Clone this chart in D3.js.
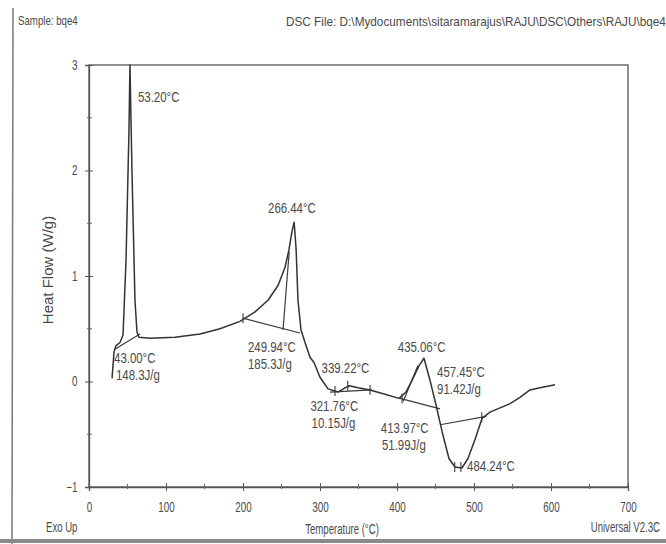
<!DOCTYPE html>
<html>
<head>
<meta charset="utf-8">
<script src="https://cdn.jsdelivr.net/npm/d3@7"></script>
<style>
    body { margin: 0; background: #fff; }
    svg text { font-family: "Liberation Sans", Arial, sans-serif; fill: #4a4a4a; }
</style>
</head>
<body>
<div id="chart"></div>
<script>
// DSC trace (temperature in °C, heat flow in W/g)
const temperature = [29.9, 32.5, 35.1, 40.3, 44.2, 48.1, 51.9, 53.2, 55.8, 59.7, 62.3, 64.9,
    79.2, 111.7, 144.2, 170.1, 196.1, 215.6, 232.5, 245.5, 254.5, 259.7, 263.6, 266.44, 269.0,
    271.4, 275.3, 280.5, 287.0, 292.2, 300.0, 310.4, 323.4, 332.5, 338.2, 349.4, 364.9, 384.4,
    402.6, 411.7, 420.8, 428.6, 435.06, 442.9, 450.6, 459.7, 467.5, 475.3, 484.24, 492.2, 501.3,
    510.4, 520.8, 533.8, 546.8, 559.7, 572.7, 585.7, 605.2];
const heatFlow = [0.03, 0.28, 0.34, 0.37, 0.44, 1.15, 2.38, 3.0, 2.0, 0.77, 0.47, 0.42,
    0.41, 0.42, 0.45, 0.50, 0.57, 0.66, 0.77, 0.91, 1.08, 1.25, 1.42, 1.51, 1.25,
    0.77, 0.49, 0.37, 0.23, 0.18, 0.04, -0.07, -0.10, -0.06, -0.04, -0.06, -0.08, -0.12,
    -0.16, -0.10, 0.03, 0.15, 0.22, 0.01, -0.22, -0.51, -0.73, -0.81, -0.82, -0.73, -0.55,
    -0.35, -0.29, -0.25, -0.21, -0.15, -0.08, -0.06, -0.03];

// Axis ticks
const xTicks = [0, 100, 200, 300, 400, 500, 600, 700];
const xMinorTicks = [50, 150, 250, 350, 450, 550, 650];
const yTicks = [-1, 0, 1, 2, 3];
const yMinorTicks = [-0.5, 0.5, 1.5, 2.5];

// Analysis construction lines: [t1, h1, t2, h2]
const baselines = [
    [32.5, 0.30, 66.2, 0.45],
    [200.0, 0.60, 274.0, 0.46],
    [252.0, 0.49, 260.0, 1.23],
    [313.0, -0.10, 367.5, -0.08],
    [404.0, -0.16, 456.0, -0.26],
    [408.0, -0.19, 427.0, 0.15],
    [456.0, -0.41, 516.0, -0.33]
];
// Small vertical markers on the analysis lines: [t, h]
const markers = [[200.0, 0.60], [319.5, -0.09], [336.0, -0.04], [365.0, -0.08],
    [406.5, -0.16], [510.0, -0.34], [475.0, -0.81], [483.0, -0.81]];

// Peak annotations: text and anchor [t, h]
const annotations = [
    { text: "53.20°C", t: 63.6, h: 2.65 },
    { text: "266.44°C", t: 232.5, h: 1.60 },
    { text: "249.94°C", t: 206.5, h: 0.28 },
    { text: "185.3J/g", t: 206.5, h: 0.12 },
    { text: "43.00°C", t: 32.5, h: 0.18 },
    { text: "148.3J/g", t: 35.0, h: 0.01 },
    { text: "339.22°C", t: 302.0, h: 0.08 },
    { text: "321.76°C", t: 287.5, h: -0.28 },
    { text: "10.15J/g", t: 289.0, h: -0.44 },
    { text: "435.06°C", t: 401.0, h: 0.28 },
    { text: "457.45°C", t: 452.0, h: 0.04 },
    { text: "91.42J/g", t: 452.0, h: -0.12 },
    { text: "413.97°C", t: 379.0, h: -0.49 },
    { text: "51.99J/g", t: 380.5, h: -0.65 },
    { text: "484.24°C", t: 491.0, h: -0.85 }
];

const Chart = (function() {
    let svg;
    const width = 666, height = 544;
    const plot = { left: 89, right: 628, top: 65, bottom: 487 };
    const ink = "#3c3c3c";

    // the scan squeezes glyphs sideways, so texts get a narrow transform
    function addText(x, y, str, size, sx, sy, anchor) {
        return svg.append("text")
            .attr("transform", `translate(${x},${y}) scale(${sx},${sy})`)
            .attr("text-anchor", anchor || "start")
            .style("font-size", size + "px")
            .text(str);
    }

    function render(selector) {
        svg = d3.select(selector)
            .append("svg")
            .attr("width", width)
            .attr("height", height);

        const x = d3.scaleLinear().domain([0, 700]).range([plot.left, plot.right]);
        const y = d3.scaleLinear().domain([-1, 3]).range([plot.bottom, plot.top]);

        // page edges from the scan
        svg.append("line")
            .attr("x1", 13).attr("y1", 8).attr("x2", 12).attr("y2", 544)
            .style("stroke", "#777").style("stroke-width", 1.5);
        svg.append("line")
            .attr("x1", 0).attr("y1", 541).attr("x2", width).attr("y2", 541)
            .style("stroke", "#8a8a8a").style("stroke-width", 4);

        // frame
        svg.append("rect")
            .attr("x", plot.left).attr("y", plot.top)
            .attr("width", plot.right - plot.left).attr("height", plot.bottom - plot.top)
            .style("fill", "none").style("stroke", "#555").style("stroke-width", 1.3);

        // x axis
        const xAxis = svg.append("g").attr("transform", `translate(0,${plot.bottom})`);
        xAxis.call(d3.axisBottom(x).tickValues(xTicks).tickSize(4).tickPadding(9).tickFormat(d3.format("d")));
        xAxis.selectAll(".tick line").attr("y1", -4);
        xMinorTicks.forEach(t => {
            xAxis.append("line")
                .attr("x1", x(t)).attr("x2", x(t)).attr("y1", -3).attr("y2", 2)
                .style("stroke", "#666");
        });

        // y axis
        const yAxis = svg.append("g").attr("transform", `translate(${plot.left},0)`);
        yAxis.call(d3.axisLeft(y).tickValues(yTicks).tickSize(4).tickPadding(10).tickFormat(d3.format("d")));
        yAxis.selectAll(".tick line").attr("x1", 4);
        yMinorTicks.forEach(v => {
            yAxis.append("line")
                .attr("x1", -2).attr("x2", 3).attr("y1", y(v)).attr("y2", y(v))
                .style("stroke", "#666");
        });

        svg.selectAll(".domain").style("stroke", "#555").style("stroke-width", 1.3);
        svg.selectAll(".tick line").style("stroke", "#555");
        svg.selectAll(".tick text")
            .attr("transform", "scale(0.82,1.15)")
            .style("font-size", "12px").style("fill", "#4a4a4a");

        // analysis lines
        svg.selectAll(".baseline")
            .data(baselines)
            .enter().append("line")
            .attr("class", "baseline")
            .attr("x1", d => x(d[0])).attr("y1", d => y(d[1]))
            .attr("x2", d => x(d[2])).attr("y2", d => y(d[3]))
            .style("stroke", ink).style("stroke-width", 1.2);

        svg.selectAll(".marker")
            .data(markers)
            .enter().append("line")
            .attr("class", "marker")
            .attr("x1", d => x(d[0])).attr("y1", d => y(d[1]) - 5)
            .attr("x2", d => x(d[0])).attr("y2", d => y(d[1]) + 5)
            .style("stroke", ink).style("stroke-width", 1.1);

        // heat flow curve
        const points = temperature.map((t, i) => [t, heatFlow[i]]);
        const line = d3.line().x(d => x(d[0])).y(d => y(d[1]));
        svg.append("path")
            .datum(points)
            .attr("d", line)
            .style("fill", "none")
            .style("stroke", "#333")
            .style("stroke-width", 1.5)
            .style("stroke-linejoin", "round");

        // peak labels
        svg.selectAll(".annotation")
            .data(annotations)
            .enter().append("text")
            .attr("class", "annotation")
            .attr("transform", d => `translate(${x(d.t)},${y(d.h)}) scale(0.88,1.15)`)
            .style("font-size", "13px")
            .text(d => d.text);

        // titles
        addText(18, 25, "Sample: bqe4", 11, 0.88, 1.2);
        addText(286, 26, "DSC File: D:\\Mydocuments\\sitaramarajus\\RAJU\\DSC\\Others\\RAJU\\bqe4", 11, 1.07, 1.2);

        svg.append("text")
            .attr("transform", `translate(53,${(plot.top + plot.bottom) / 2 - 6}) rotate(-90)`)
            .attr("text-anchor", "middle")
            .style("font-size", "15px")
            .text("Heat Flow (W/g)");

        addText(342, 534, "Temperature (°C)", 12, 0.8, 1.25, "middle");
        addText(46, 532, "Exo Up", 12, 0.8, 1.25);
        addText(660, 532, "Universal V2.3C", 12, 0.8, 1.25, "end");
    }

    return { render: render };
})();

Chart.render("#chart");
</script>
</body>
</html>
